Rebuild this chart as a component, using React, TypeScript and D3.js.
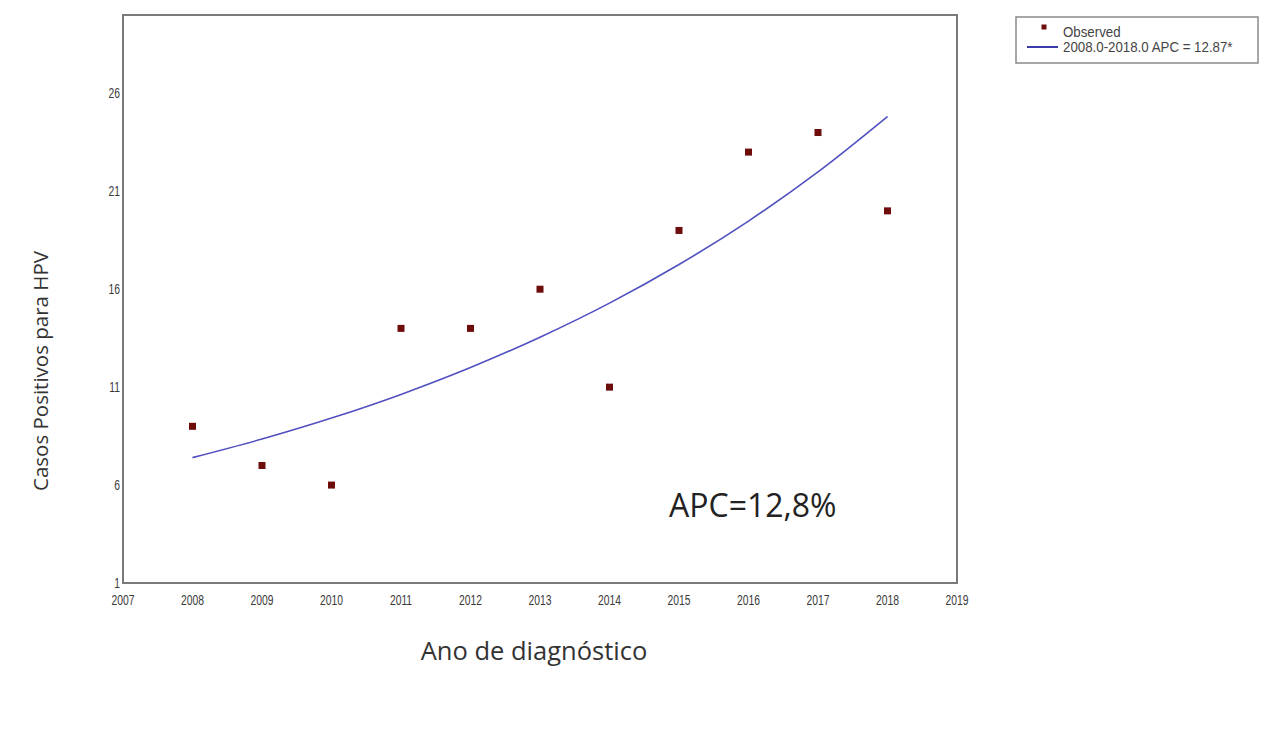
import React from "react";
import * as d3 from "d3";

const years = [2008, 2009, 2010, 2011, 2012, 2013, 2014, 2015, 2016, 2017, 2018];
const observed = [9, 7, 6, 14, 14, 16, 11, 19, 23, 24, 20];
const fitted = [7.4, 8.35, 9.42, 10.63, 12.0, 13.55, 15.29, 17.26, 19.48, 21.99, 24.82];
const xTicks = [2007, 2008, 2009, 2010, 2011, 2012, 2013, 2014, 2015, 2016, 2017, 2018, 2019];
const yTicks = [1, 6, 11, 16, 21, 26];
const legendLabels = ["Observed", "2008.0-2018.0 APC  = 12.87*"];
const yTitle = "Casos Positivos para HPV";
const xTitle = "Ano de diagnóstico";
const annotation = "APC=12,8%";

export default function App() {
  const W = 1264, H = 732;
  const left = 123, right = 957, top = 15, bottom = 583;
  const x = d3.scaleLinear().domain([2007, 2019]).range([left, right]);
  const y = d3.scaleLinear().domain([1, 30]).range([bottom, top]);
  const line = d3
    .line<number>()
    .x((_, i) => x(years[i]))
    .y((d) => y(d))
    .curve(d3.curveMonotoneX);
  const tickFont = "'Liberation Sans', Arial, sans-serif";
  const titleFont = "'Open Sans', 'Noto Sans', sans-serif";
  const sx = 0.74;
  return (
    <svg width={W} height={H} style={{ position: "absolute", left: 0, top: 0, background: "#fff" }}>
      <rect x={0} y={0} width={W} height={H} fill="#fff" />
      <rect x={left} y={top} width={right - left} height={bottom - top} fill="none" stroke="#7a7a7a" strokeWidth={2} />
      {yTicks.map((t) => (
        <text
          key={"y" + t}
          transform={`translate(${left - 3}, ${y(t) + 5}) scale(${sx}, 1)`}
          textAnchor="end"
          fontSize={14}
          fill="#3a3a3a"
          fontFamily={tickFont}
        >
          {t}
        </text>
      ))}
      {xTicks.map((t) => (
        <text
          key={"x" + t}
          transform={`translate(${x(t)}, ${bottom + 22}) scale(${sx}, 1)`}
          textAnchor="middle"
          fontSize={14}
          fill="#3a3a3a"
          fontFamily={tickFont}
        >
          {t}
        </text>
      ))}
      <path d={line(fitted) || ""} fill="none" stroke="#5050c0" strokeWidth={1.6} />
      {observed.map((v, i) => (
        <rect key={"p" + i} x={x(years[i]) - 3.5} y={y(v) - 3.5} width={7} height={7} fill="#6e0c0c" />
      ))}
      <text x={669} y={517} fontSize={32} fill="#222" fontFamily={titleFont}>
        {annotation}
      </text>
      <text
        transform={`translate(48, 371) rotate(-90)`}
        textAnchor="middle"
        fontSize={20.5}
        fill="#333"
        fontFamily={titleFont}
      >
        {yTitle}
      </text>
      <text x={534} y={660} textAnchor="middle" fontSize={25.5} fill="#333" fontFamily={titleFont}>
        {xTitle}
      </text>
      <g>
        <rect x={1016} y={17} width={242} height={46} fill="#fff" stroke="#8a8a8a" strokeWidth={1.5} />
        <rect x={1041.5} y={24.5} width={5} height={5} fill="#6e0c0c" />
        <text x={1063} y={37} fontSize={14} fill="#444" fontFamily={tickFont} transform="translate(1063,0) scale(0.95,1) translate(-1063,0)">
          {legendLabels[0]}
        </text>
        <line x1={1027} x2={1058} y1={47} y2={47} stroke="#3a3aa8" strokeWidth={2} />
        <text x={1063} y={52} fontSize={14} fill="#444" fontFamily={tickFont} transform="translate(1063,0) scale(0.95,1) translate(-1063,0)">
          {legendLabels[1]}
        </text>
      </g>
    </svg>
  );
}
